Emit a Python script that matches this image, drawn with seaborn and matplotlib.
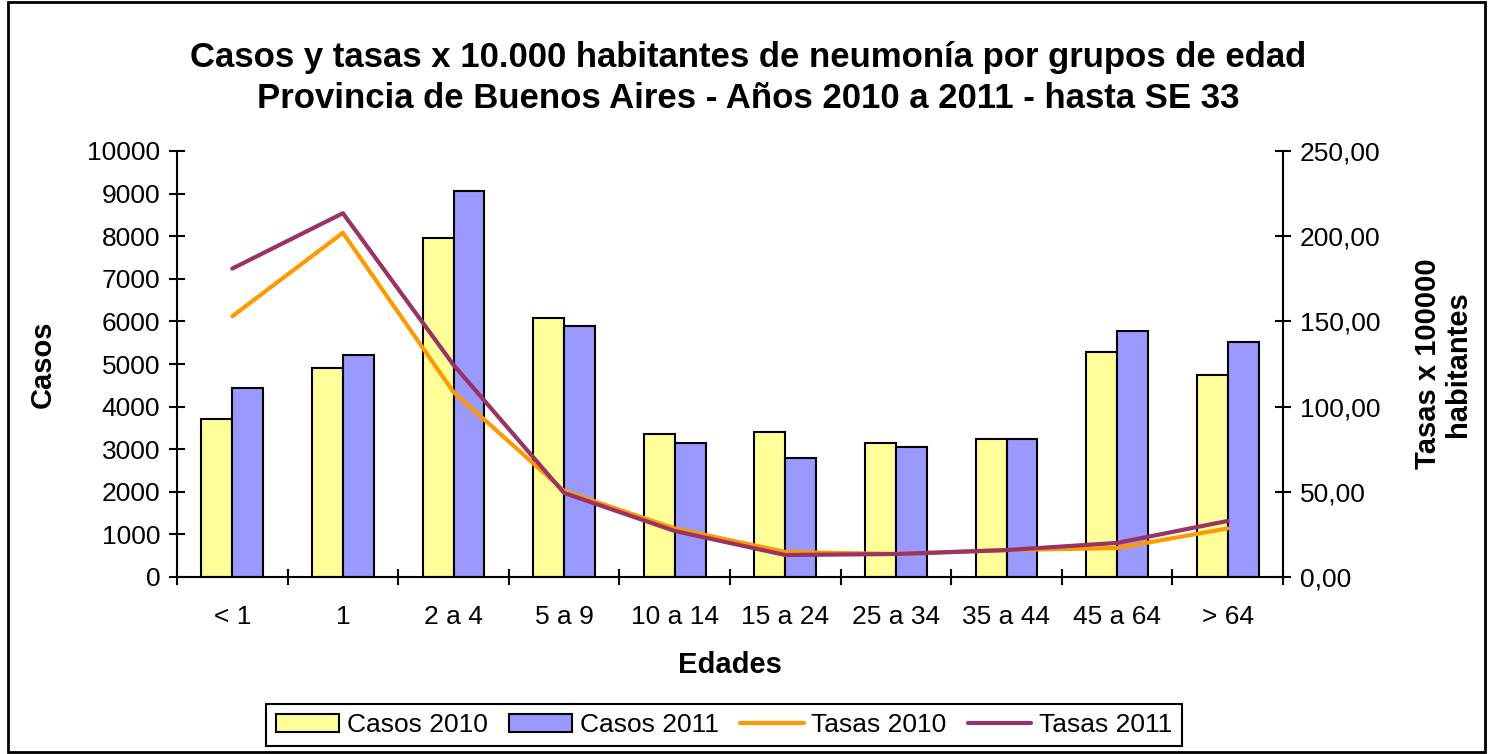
import matplotlib
matplotlib.use('Agg')
import matplotlib.pyplot as plt
import seaborn as sns
import pandas as pd
import numpy as np
from matplotlib.patches import Patch, Rectangle
from matplotlib.lines import Line2D
from matplotlib.ticker import FuncFormatter, FixedLocator

edades = ['< 1', '1', '2 a 4', '5 a 9', '10 a 14', '15 a 24', '25 a 34', '35 a 44', '45 a 64', '> 64']
casos_2010 = [3700, 4900, 7950, 6080, 3360, 3400, 3150, 3240, 5270, 4740]
casos_2011 = [4430, 5210, 9070, 5890, 3150, 2790, 3050, 3240, 5780, 5520]
tasas_2010 = [153.0, 202.0, 108.5, 50.5, 28.5, 14.7, 13.5, 15.8, 17.0, 28.5]
tasas_2011 = [181.0, 213.5, 124.5, 49.3, 27.0, 12.9, 13.5, 15.8, 20.0, 32.9]

sns.set_style('white')
plt.rcParams['font.family'] = ['Liberation Sans', 'DejaVu Sans']
plt.rcParams.update({'text.color': 'black', 'axes.labelcolor': 'black',
                     'xtick.color': 'black', 'ytick.color': 'black'})

W, H = 1491, 754
fig = plt.figure(figsize=(W / 100, H / 100), dpi=100)
ax = fig.add_axes([177 / W, 1 - 577 / H, (1283 - 177) / W, (577 - 151) / H])

df = pd.DataFrame({
    'Edades': edades * 2,
    'Casos': casos_2010 + casos_2011,
    'Serie': ['Casos 2010'] * len(edades) + ['Casos 2011'] * len(edades),
})
sns.barplot(data=df, x='Edades', y='Casos', hue='Serie', order=edades,
            palette=['#FFFF99', '#9999FF'], saturation=1, width=0.56,
            edgecolor='black', linewidth=1.5, legend=False, ax=ax)

ax2 = ax.twinx()
pos = np.arange(len(edades))
sns.lineplot(x=pos, y=tasas_2010, color='#FF9900', linewidth=3, ax=ax2)
sns.lineplot(x=pos, y=tasas_2011, color='#993366', linewidth=3, ax=ax2)

ax.set_xlim(-0.5, len(edades) - 0.5)
ax.set_ylim(0, 10000)
ax2.set_ylim(0, 250)
ax.set_yticks(range(0, 10001, 1000))
ax2.set_yticks(range(0, 251, 50))
ax2.yaxis.set_major_formatter(FuncFormatter(lambda v, p: f'{v:.2f}'.replace('.', ',')))

ax.set_xticks(pos)
ax.set_xticklabels(edades)
ax.xaxis.set_minor_locator(FixedLocator(np.arange(-0.5, len(edades), 1.0)))
ax.tick_params(axis='x', which='major', length=0, pad=20, labelsize=19)
ax.tick_params(axis='x', which='minor', length=12, width=1.5, direction='inout', bottom=True)
ax.tick_params(axis='y', length=12, width=1.5, direction='inout', labelsize=19, left=True, pad=6)
ax2.tick_params(axis='y', length=12, width=1.5, direction='inout', labelsize=19, right=True, pad=6)

for a in (ax, ax2):
    for s in a.spines.values():
        s.set_linewidth(1.5)
        s.set_color('black')
    a.spines['top'].set_visible(False)
ax.spines['right'].set_visible(False)
ax2.spines['left'].set_visible(False)
ax2.spines['bottom'].set_visible(False)
ax.patch.set_visible(False)

ax.set_xlabel('Edades', fontsize=21, fontweight='bold', labelpad=16)
ax.set_ylabel('Casos', fontsize=21, fontweight='bold', labelpad=22)
ax2.set_ylabel('Tasas x 100000\nhabitantes', fontsize=21, fontweight='bold', labelpad=24, linespacing=1.1)

fig.text(0.502, 1 - 78 / H,
         'Casos y tasas x 10.000 habitantes de neumonía por grupos de edad\n'
         'Provincia de Buenos Aires - Años 2010 a 2011 - hasta SE 33',
         ha='center', va='center', fontsize=25, fontweight='bold', linespacing=1.3)

handles = [
    Patch(facecolor='#FFFF99', edgecolor='black', linewidth=1.5),
    Patch(facecolor='#9999FF', edgecolor='black', linewidth=1.5),
    Line2D([], [], color='#FF9900', linewidth=3),
    Line2D([], [], color='#993366', linewidth=3),
]
leg = fig.legend(handles, ['Casos 2010', 'Casos 2011', 'Tasas 2010', 'Tasas 2011'],
                 loc='center', bbox_to_anchor=(724 / W, 1 - 725 / H), ncol=4,
                 fontsize=19, frameon=True, fancybox=False, edgecolor='black',
                 handlelength=2.4, handletextpad=0.3, columnspacing=0.8,
                 borderpad=0.35, framealpha=1)
leg.get_frame().set_linewidth(1.5)

fig.patches.append(Rectangle((8 / W, 2 / H), 1 - 14 / W, 1 - 4 / H, transform=fig.transFigure,
                             fill=False, edgecolor='black', linewidth=2))

fig.savefig('out.png', dpi=100)
